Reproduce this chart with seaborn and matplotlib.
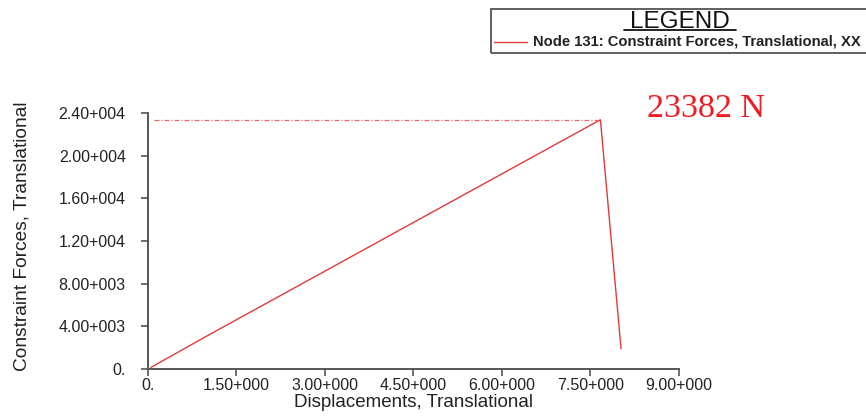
"""Constraint force vs displacement curve for node 131."""

import matplotlib.pyplot as plt
import numpy as np
import pandas as pd
import seaborn as sns
from matplotlib.lines import Line2D
from matplotlib.patches import Rectangle
from matplotlib.ticker import FixedLocator, FuncFormatter

# data
displacement = [0.05, 1.0, 7.67, 8.02]
force = [150, 3100, 23382, 1900]
peak_force = 23382
x_ticks = [0, 1.5, 3.0, 4.5, 6.0, 7.5, 9.0]
y_ticks = [0, 4000, 8000, 12000, 16000, 20000, 24000]
legend_label = "Node 131: Constraint Forces, Translational, XX"

sns.set_theme(style="white")
plt.rcParams["font.family"] = ["Liberation Sans", "DejaVu Sans"]

RED = "#e23a3a"
GREY = "#555555"


def fmt(value, _pos=None):
    if value == 0:
        return "0."
    exp = int(np.floor(np.log10(abs(value))))
    mant = value / 10**exp
    return f"{mant:.2f}+{exp:03d}"


df = pd.DataFrame({"disp": displacement, "force": force})

fig = plt.figure(figsize=(8.66, 4.16), dpi=100)
ax = fig.add_axes([0.1709, 0.113, 0.613, 0.615])

sns.lineplot(data=df, x="disp", y="force", ax=ax, color=RED, linewidth=1.0,
             sort=False, estimator=None)
ax.plot([0.1, displacement[2] - 0.05], [peak_force, peak_force], color=RED,
        linewidth=0.9, linestyle=(0, (4, 1.5, 1, 1.5)), alpha=0.75)

ax.set_xlim(0, 9)
ax.set_ylim(0, 24000)
ax.xaxis.set_major_locator(FixedLocator(x_ticks))
ax.yaxis.set_major_locator(FixedLocator(y_ticks))
ax.xaxis.set_major_formatter(FuncFormatter(fmt))
ax.yaxis.set_major_formatter(FuncFormatter(fmt))
for side in ("top", "right"):
    ax.spines[side].set_visible(False)
for side in ("left", "bottom"):
    ax.spines[side].set_color(GREY)
    ax.spines[side].set_linewidth(1.4)
ax.tick_params(axis="both", which="major", bottom=True, left=True, direction="out",
               length=5, width=1.2, color=GREY, labelsize=11.5,
               labelcolor="#222222")
ax.tick_params(axis="x", pad=1.5)
ax.tick_params(axis="y", pad=11)
ax.set_xlabel("Displacements, Translational", fontsize=13.5, color="#222222")
ax.set_ylabel("Constraint Forces, Translational", fontsize=13.8, color="#222222")
ax.xaxis.set_label_coords(0.5, -0.098)
ax.yaxis.set_label_coords(-0.222, 0.52)

# peak annotation
fig.text(0.747, 0.738, f"{peak_force} N", color="#ee1c24", fontsize=24.5,
         family=["Liberation Serif", "DejaVu Serif"], ha="left", va="center")

# legend box in the top right corner
fig.patches.append(Rectangle((491 / 866, 1 - 53 / 416), 0.5, 44 / 416,
                             transform=fig.transFigure, fill=False,
                             edgecolor="#444444", linewidth=1.2))
fig.text(680 / 866, 1 - 27.5 / 416, "LEGEND", fontsize=17.5, ha="center",
         va="baseline", color="#111111")
fig.lines.append(Line2D([624 / 866, 736 / 866], [1 - 30 / 416, 1 - 30 / 416],
                        transform=fig.transFigure, color="#111111", linewidth=1.3))
fig.lines.append(Line2D([494 / 866, 527 / 866], [1 - 42 / 416, 1 - 42 / 416],
                        transform=fig.transFigure, color=RED, linewidth=1.0))
fig.text(533 / 866, 1 - 42 / 416, legend_label, fontsize=10.6, fontweight="bold",
         ha="left", va="center", color="#222222")

fig.savefig("out.png", dpi=100)
